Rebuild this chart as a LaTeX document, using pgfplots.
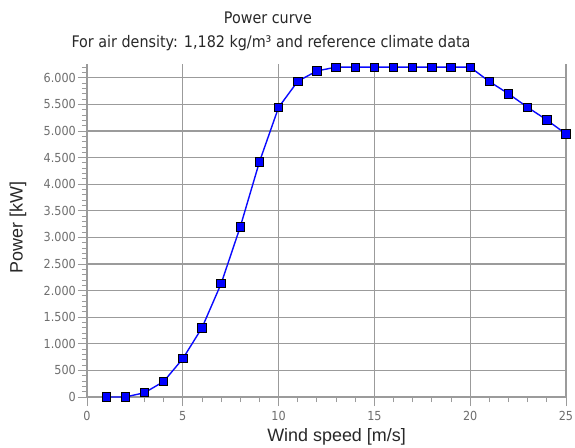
\documentclass[border=0pt]{standalone}
\usepackage{fontspec}
\setmainfont{DejaVu Sans Condensed}
\newfontfamily\labfont{Liberation Sans}
\newfontfamily\tickfont{DejaVu Sans Condensed}
\usepackage{pgfplots}
\pgfplotsset{compat=1.18}
\usetikzlibrary{calc}
\definecolor{gridgray}{RGB}{155,155,155}
\definecolor{ticklab}{RGB}{110,110,110}
\definecolor{labcol}{RGB}{40,40,40}
\definecolor{lineblue}{RGB}{10,10,255}
\pgfplotstableread{
x y
1 0
2 0
3 80
4 290
5 720
6 1300
7 2130
8 3200
9 4420
10 5445
11 5935
12 6130
13 6200
14 6200
15 6200
16 6200
17 6200
18 6200
19 6200
20 6200
21 5930
22 5700
23 5445
24 5207
25 4944
}\powercurve
\begin{document}
\begin{tikzpicture}
\begin{axis}[name=ax, at={(0,0)}, anchor=south west,
  scale only axis, width=479bp, height=333bp,
  xmin=0, xmax=25, ymin=0, ymax=6260,
  axis lines*=left,
  clip=false,
  xtick={0,5,...,25}, minor xtick={1,...,24},
  ytick={0,500,...,6000}, minor ytick={100,200,...,6200},
  grid=major, major grid style={gridgray, line width=1.2bp},
  tick align=outside, major tick length=9bp, minor tick length=5bp,
  every tick/.style={gridgray, line width=0.9bp},
  axis line style={gridgray, line width=1.2bp},
  /pgf/number format/assume math mode=true,
  xticklabel={\tickfont\fontsize{12.5}{14}\selectfont\pgfmathprintnumber{\tick}},
  yticklabel={\tickfont\fontsize{12.5}{14}\selectfont\pgfmathprintnumber[1000 sep={.}]{\tick}},
  tick label style={text=ticklab},
  yticklabel style={inner sep=2bp},
  xticklabel style={yshift=-2bp},
  xlabel={Wind speed [m/s]}, ylabel={Power [kW]},
  label style={font=\labfont\fontsize{18}{21}\selectfont, text=labcol},
  xlabel style={at={(axis description cs:0.521,-0.135)}, anchor=base},
  ylabel style={at={(axis description cs:-0.144,0.508)}, anchor=center},
]
\addplot[lineblue, line width=1.4bp, mark=square*, mark size=4.2bp,
  mark options={fill=blue, draw=black, line width=0.9bp}] table[x=x,y=y] {\powercurve};
\end{axis}
\node[anchor=base, font=\fontsize{16}{19}\selectfont, text=labcol] at ($(ax.south west)+(181bp,373bp)$) {Power curve};
\node[anchor=base, font=\fontsize{16}{19}\selectfont, text=labcol] at ($(ax.south west)+(184bp,349bp)$) {For air density: 1,182 kg/m³ and reference climate data};
\pgfresetboundingbox
\path ($(ax.south west)+(-87bp,-51bp)$) rectangle ($(ax.south west)+(488bp,397bp)$);
\end{tikzpicture}
\end{document}
